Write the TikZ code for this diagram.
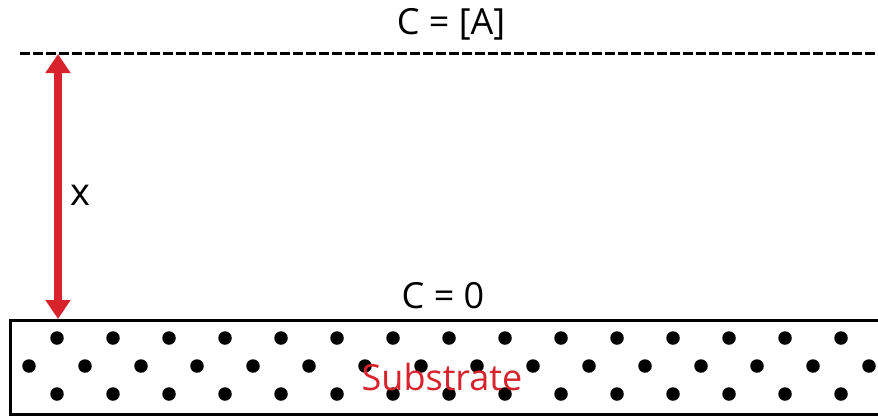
\documentclass[tikz,border=0pt]{standalone}
\usepackage{fontspec}
\setmainfont{Open Sans}
\usepackage{tikz}
\usetikzlibrary{arrows.meta,positioning,calc}
\definecolor{arrowred}{RGB}{216,35,45}
\tikzset{
  label/.style   = {inner sep=0pt, font=\fontsize{36}{36}\selectfont},
  grain/.style   = {fill, circle, inner sep=0pt, minimum size=13.5pt},
  front/.style   = {dashed, line width=3pt, dash pattern=on 9.5pt off 3.5pt},
  dist/.style    = {{Triangle[length=19pt,width=24pt]}-{Triangle[length=19pt,width=24pt]},
                    line width=8.5pt, arrowred},
}

\begin{document}
\begin{tikzpicture}[x=1pt,y=-1pt]
\useasboundingbox (0,0) rectangle (878,416);
\clip (0,0) rectangle (878,416);
% bulk and substrate
\draw[front] (20,53) -- (878,53);
\draw[line width=3pt] (10,320) rectangle (890,414);
\coordinate (top) at (58,54);
\coordinate (surf) at (58,319);
\draw[dist] (top) -- (surf);
% labels
\node[label] (bulk) at (451,24) {C = [A]};
\node[label] (zero) at (443,296) {C = 0};
\node[label, font=\fontsize{38}{38}\selectfont] (dx) at (80,195) {x};
% dots in the substrate
\foreach \k in {0,...,14} {
  \node[grain] (a\k) at (57+56*\k,338) {};
  \node[grain] (c\k) at (57+56*\k,394) {};
}
\foreach \k in {0,...,15}
  \node[grain] (b\k) at (29+56*\k,366) {};
\node[label, text=arrowred] (sub) at (442,377) {Substrate};
\end{tikzpicture}
\end{document}
